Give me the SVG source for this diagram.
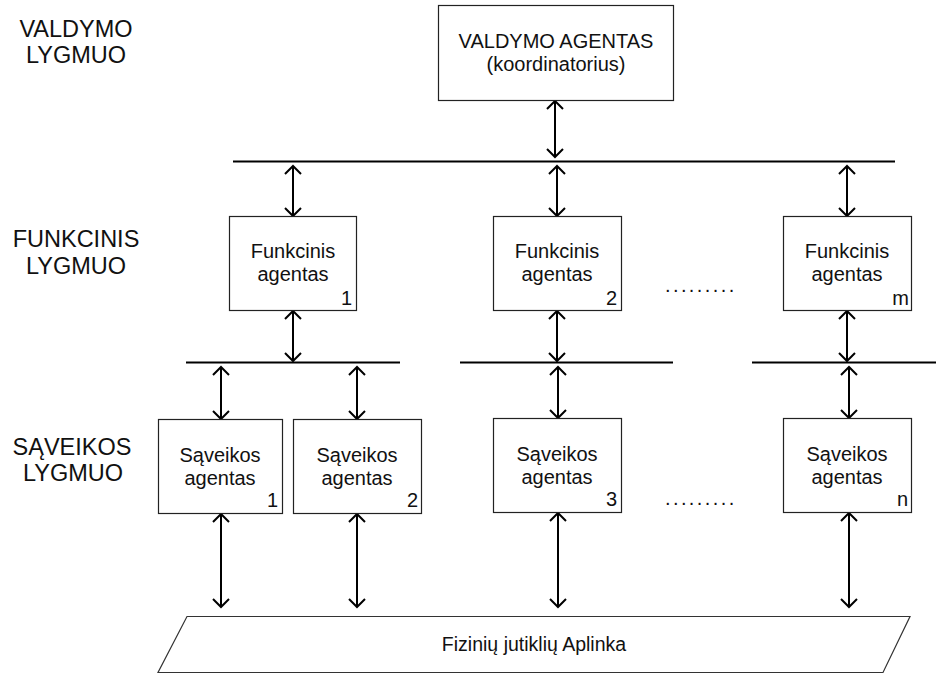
<svg xmlns="http://www.w3.org/2000/svg" width="936" height="675" viewBox="0 0 936 675">
  <style>
    text { font-family: "Liberation Sans", Arial, sans-serif; fill: #111; }
    .lvl { font-size: 23.5px; text-anchor: middle; }
    .lbl { font-size: 20px; text-anchor: middle; }
    .num { font-size: 20px; text-anchor: end; }
    .dots { font-size: 20px; letter-spacing: 2.4px; }
    .box { fill: #fff; stroke: #222; stroke-width: 1.2; }
    .bus { stroke: #000; stroke-width: 2; fill: none; }
    .arr { stroke: #000; stroke-width: 2; fill: none; marker-start: url(#head); marker-end: url(#head); }
  </style>
  <defs>
    <marker id="head" viewBox="-10 -10 20 20" refX="0" refY="0" markerWidth="20" markerHeight="20" markerUnits="userSpaceOnUse" orient="auto-start-reverse">
      <path d="M-8,-8 L0,0 L-8,8" fill="none" stroke="#000" stroke-width="2"/>
    </marker>
  </defs>

  <rect width="936" height="675" fill="#fff"/>

  <!-- level captions -->
  <g id="levels">
    <text class="lvl" x="76" y="37">VALDYMO</text>
    <text class="lvl" x="76" y="63">LYGMUO</text>
    <text class="lvl" x="76" y="247">FUNKCINIS</text>
    <text class="lvl" x="76" y="274">LYGMUO</text>
    <text class="lvl" x="72" y="455">SĄVEIKOS</text>
    <text class="lvl" x="73" y="481">LYGMUO</text>
  </g>

  <!-- buses and connectors -->
  <g id="connectors">
    <line class="bus" x1="233" y1="161.5" x2="895" y2="161.5"/>
    <line class="bus" x1="186" y1="362.5" x2="400" y2="362.5"/>
    <line class="bus" x1="460" y1="362.5" x2="673" y2="362.5"/>
    <line class="bus" x1="752" y1="362.5" x2="936" y2="362.5"/>

    <line class="arr" x1="555" y1="101" x2="555" y2="157"/>

    <line class="arr" x1="293" y1="166" x2="293" y2="216"/>
    <line class="arr" x1="557" y1="166" x2="557" y2="216"/>
    <line class="arr" x1="847" y1="166" x2="847" y2="216"/>

    <line class="arr" x1="293" y1="311" x2="293" y2="361"/>
    <line class="arr" x1="557" y1="311" x2="557" y2="361"/>
    <line class="arr" x1="847" y1="311" x2="847" y2="361"/>

    <line class="arr" x1="221" y1="367" x2="221" y2="419"/>
    <line class="arr" x1="357" y1="367" x2="357" y2="419"/>
    <line class="arr" x1="558" y1="367" x2="558" y2="418"/>
    <line class="arr" x1="849" y1="367" x2="849" y2="418"/>

    <line class="arr" x1="221" y1="514" x2="221" y2="607"/>
    <line class="arr" x1="357" y1="514" x2="357" y2="607"/>
    <line class="arr" x1="558" y1="513" x2="558" y2="607"/>
    <line class="arr" x1="849" y1="513" x2="849" y2="607"/>
  </g>

  <g id="valdymo-agentas">
    <rect class="box" x="438.5" y="5.5" width="235" height="95"/>
    <text class="lbl" x="556" y="48">VALDYMO AGENTAS</text>
    <text class="lbl" x="556" y="71">(koordinatorius)</text>
  </g>

  <g id="funkcinis-1">
    <rect class="box" x="229.5" y="216.5" width="127" height="94"/>
    <text class="lbl" x="293" y="258">Funkcinis</text>
    <text class="lbl" x="293" y="281">agentas</text>
    <text class="num" x="352" y="305">1</text>
  </g>
  <g id="funkcinis-2">
    <rect class="box" x="493.5" y="216.5" width="128" height="94"/>
    <text class="lbl" x="557" y="258">Funkcinis</text>
    <text class="lbl" x="557" y="281">agentas</text>
    <text class="num" x="617" y="305">2</text>
  </g>
  <text class="dots" x="665" y="292">.........</text>
  <g id="funkcinis-m">
    <rect class="box" x="783.5" y="216.5" width="128" height="94"/>
    <text class="lbl" x="847" y="258">Funkcinis</text>
    <text class="lbl" x="847" y="281">agentas</text>
    <text class="num" x="909" y="305">m</text>
  </g>

  <g id="saveikos-1">
    <rect class="box" x="158.5" y="419.5" width="124" height="94"/>
    <text class="lbl" x="220" y="462">Sąveikos</text>
    <text class="lbl" x="220" y="485">agentas</text>
    <text class="num" x="278" y="507">1</text>
  </g>
  <g id="saveikos-2">
    <rect class="box" x="293.5" y="419.5" width="128" height="94"/>
    <text class="lbl" x="357" y="462">Sąveikos</text>
    <text class="lbl" x="357" y="485">agentas</text>
    <text class="num" x="418" y="507">2</text>
  </g>
  <g id="saveikos-3">
    <rect class="box" x="493.5" y="418.5" width="128" height="94"/>
    <text class="lbl" x="557" y="461">Sąveikos</text>
    <text class="lbl" x="557" y="484">agentas</text>
    <text class="num" x="617" y="506">3</text>
  </g>
  <text class="dots" x="665" y="505">.........</text>
  <g id="saveikos-n">
    <rect class="box" x="783.5" y="418.5" width="128" height="94"/>
    <text class="lbl" x="847" y="461">Sąveikos</text>
    <text class="lbl" x="847" y="484">agentas</text>
    <text class="num" x="908" y="506">n</text>
  </g>

  <g id="aplinka">
    <polygon points="187,616.5 910,616.5 883,672.5 158,672.5" fill="#fff" stroke="#333" stroke-width="1.2"/>
    <text class="lbl" x="534" y="651" style="font-size:19.5px">Fizinių jutiklių Aplinka</text>
  </g>
</svg>
